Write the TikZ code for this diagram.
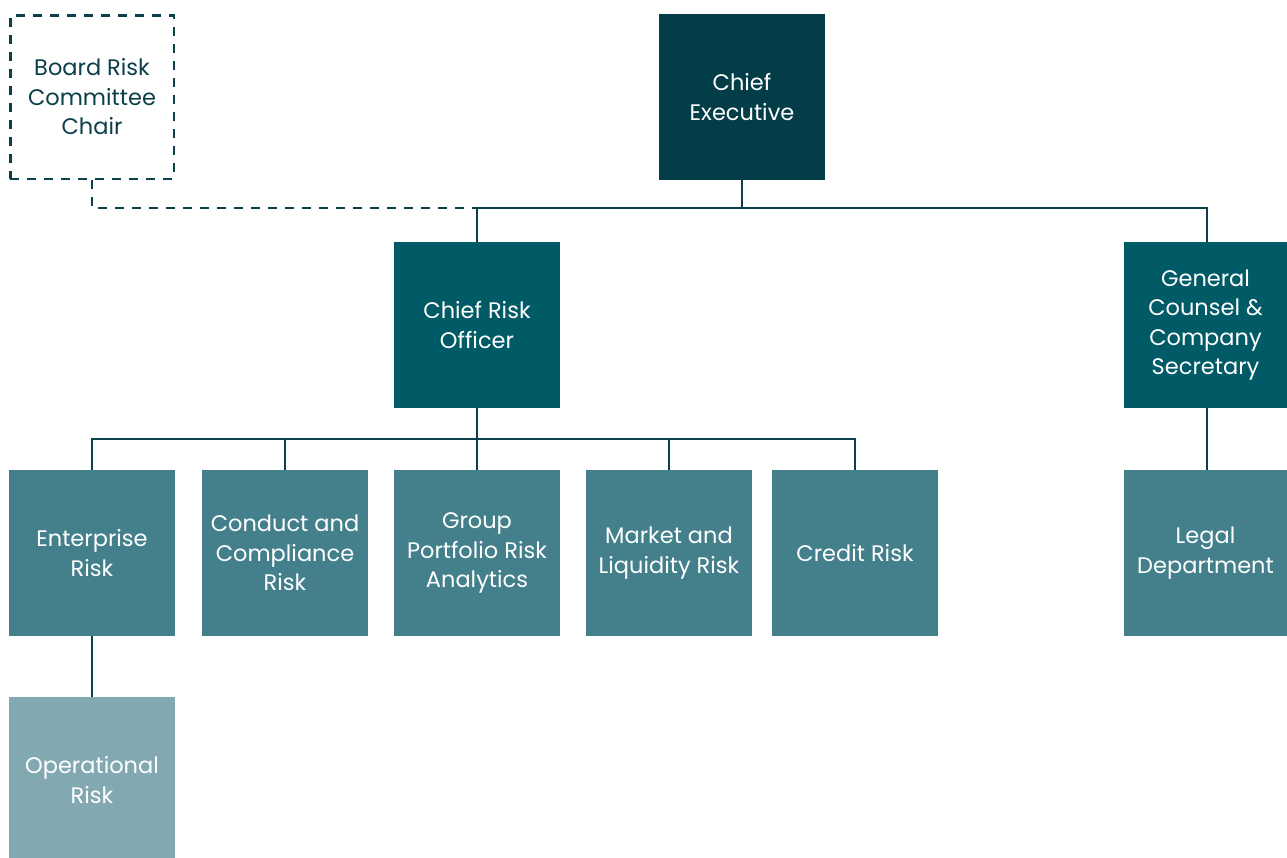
\documentclass[tikz,border=0pt]{standalone}
\usepackage{fontspec}
\setmainfont{Poppins}
\definecolor{linec}{HTML}{0B3F4A}
\definecolor{ceoc}{HTML}{033D48}
\definecolor{croc}{HTML}{005B66}
\definecolor{midc}{HTML}{43808B}
\definecolor{lightc}{HTML}{82A9B2}
\begin{document}
\begin{tikzpicture}[x=1pt,y=-1pt,
  box/.style={minimum width=166pt,minimum height=166pt,inner sep=0pt,align=center,
     font=\fontsize{22.5}{29.5}\selectfont,text=white},
  ceobox/.style={box,fill=ceoc},
  crobox/.style={box,fill=croc},
  midbox/.style={box,fill=midc},
  lightbox/.style={box,fill=lightc},
  dashbox/.style={box,draw=linec,line width=2.5pt,dash pattern=on 9pt off 8pt,text=linec,
     minimum width=163.5pt,minimum height=163.5pt},
  conn/.style={draw=linec,line width=2.5pt},
  dconn/.style={draw=linec,line width=2.5pt,dash pattern=on 9pt off 8pt}]
\useasboundingbox (0,0) rectangle (1287,857);
\node[dashbox] (board) at (92,97) {Board Risk\\Committee\\Chair};
\node[ceobox] (ceo) at (742,97) {Chief\\Executive};
\node[crobox] (cro) at (477,325) {Chief Risk\\Officer};
\node[crobox,minimum width=163pt] (gc) at (1205.5,325) {General\\Counsel \&\\Company\\Secretary};
\node[midbox] (ent) at (92,553) {Enterprise\\Risk};
\node[midbox] (cond) at (285,553) {Conduct and\\Compliance\\Risk};
\node[midbox] (grp) at (477,553) {Group\\Portfolio Risk\\Analytics};
\node[midbox] (mkt) at (669,553) {Market and\\Liquidity Risk};
\node[midbox] (cred) at (855,553) {Credit Risk};
\node[midbox,minimum width=163pt] (legal) at (1205.5,553) {Legal\\Department};
\node[lightbox] (ops) at (92,780) {Operational\\Risk};
\coordinate (busL) at (477,208);
\coordinate (busR) at (1207,208);
\coordinate (ceoJ) at (742,208);
\coordinate (boardJ) at (92,208);
\coordinate (bus2L) at (92,439);
\coordinate (bus2R) at (855,439);
\coordinate (croJ) at (477,439);
% top bus
\draw[conn] (ceo.south) -- (ceoJ);
\draw[conn] (cro.north) -- (busL) -- (busR) -- (busR |- gc.north);
\draw[dconn] (board.south) -- (boardJ) -- (busL);
% second bus
\draw[conn] (cro.south) -- (croJ);
\draw[conn] (ent.north) -- (bus2L) -- (bus2R) -- (cred.north);
\draw[conn] (cond.north) -- (cond.north |- bus2L);
\draw[conn] (grp.north) -- (grp.north |- bus2L);
\draw[conn] (mkt.north) -- (mkt.north |- bus2L);
\draw[conn] (busR |- gc.south) -- (busR |- legal.north);
\draw[conn] (ent.south) -- (ops.north);
\end{tikzpicture}
\end{document}
